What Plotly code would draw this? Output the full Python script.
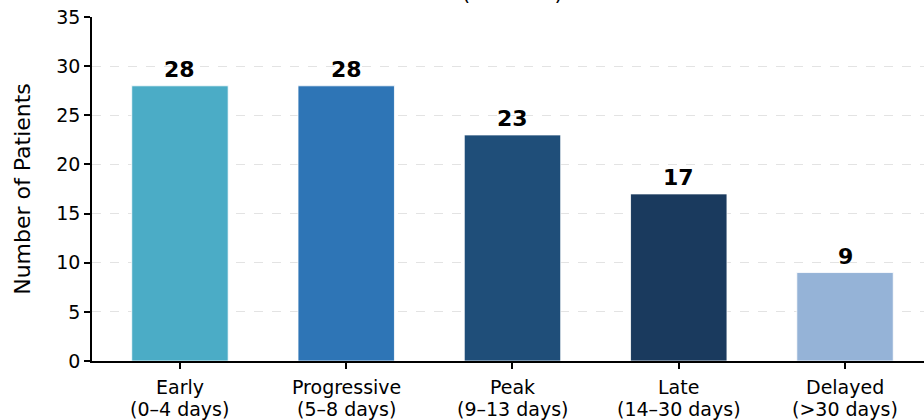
import plotly.graph_objects as go

# Patient counts by onset window
stage_names = ["Early", "Progressive", "Peak", "Late", "Delayed"]
stage_windows = ["(0–4 days)", "(5–8 days)", "(9–13 days)", "(14–30 days)", "(>30 days)"]
patients = [28, 28, 23, 17, 9]
bar_colors = ["#4BACC6", "#2E75B6", "#1F4E79", "#1A3A5E", "#95B3D7"]
y_ticks = [0, 5, 10, 15, 20, 25, 30, 35]
total_n = sum(patients)

FONT = "DejaVu Sans"

fig = go.Figure()
fig.add_trace(go.Bar(
    x=stage_names,
    y=patients,
    width=0.58,
    marker=dict(color=bar_colors, line=dict(color="white", width=0.8)),
    hoverinfo="skip",
))

# value labels above each bar
for cat, val in zip(stage_names, patients):
    fig.add_annotation(
        x=cat, y=val, text=f"<b>{val}</b>", showarrow=False,
        yanchor="bottom", yshift=2,
        font=dict(family=FONT, size=22, color="black"),
    )

# two-line category labels under the axis, with tight line spacing
for name, window in zip(stage_names, stage_windows):
    fig.add_annotation(
        x=name, xref="x", yref="paper", y=0, text=name, showarrow=False,
        yanchor="top", yshift=-13,
        font=dict(family=FONT, size=19, color="black"),
    )
    fig.add_annotation(
        x=name, xref="x", yref="paper", y=0, text=window, showarrow=False,
        yanchor="top", yshift=-35,
        font=dict(family=FONT, size=19, color="black"),
    )

# title (second line sits at the very top of the canvas)
fig.add_annotation(
    xref="paper", yref="paper", x=0.505, y=1.03,
    text=f"(n = {total_n})", showarrow=False, yanchor="bottom",
    font=dict(family=FONT, size=21, color="black"),
)

fig.update_layout(
    width=924, height=420,
    margin=dict(l=92, r=0, t=17, b=59),
    plot_bgcolor="white", paper_bgcolor="white",
    showlegend=False,
    font=dict(family=FONT, color="black"),
)
fig.update_xaxes(
    type="category",
    range=[-0.529, 4.475],
    automargin=False,
    showticklabels=False,
    showline=True, linecolor="black", linewidth=1.5,
    ticks="outside", ticklen=6, tickwidth=1.5, tickcolor="black",
    showgrid=False, zeroline=False,
)
fig.update_yaxes(
    range=[0, 35],
    tickvals=y_ticks,
    automargin=False,
    showline=True, linecolor="black", linewidth=1.5,
    ticks="outside", ticklen=6, tickwidth=1.5, tickcolor="black",
    tickfont=dict(family=FONT, size=19, color="black"),
    showgrid=True, gridcolor="#e3e3e3", griddash="dash", gridwidth=1,
    zeroline=False,
    title=dict(text="Number of Patients", font=dict(family=FONT, size=22, color="black"), standoff=20),
)

fig.write_html("out.html")
